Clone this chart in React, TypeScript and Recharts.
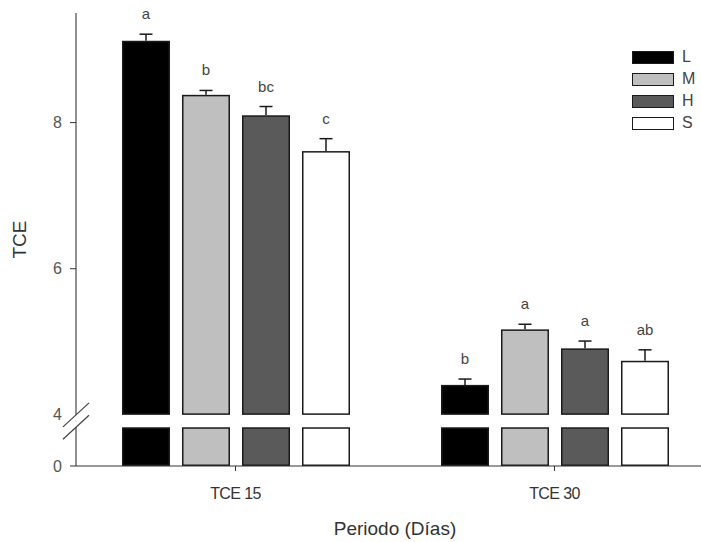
import { BarChart, Bar, XAxis, YAxis } from 'recharts';

const categories = ['TCE 15', 'TCE 30'];
const treatments = ['L', 'M', 'H', 'S'];
const valuesL = [9.12, 4.41];
const valuesM = [8.38, 5.17];
const valuesH = [8.1, 4.91];
const valuesS = [7.61, 4.74];
const errorsL = [0.09, 0.08];
const errorsM = [0.06, 0.07];
const errorsH = [0.12, 0.1];
const errorsS = [0.17, 0.15];
const lettersL = ['a', 'b'];
const lettersM = ['b', 'a'];
const lettersH = ['bc', 'a'];
const lettersS = ['c', 'ab'];
const yTickLabels = [0, 4, 6, 8];

// broken axis: a short stub below the break, then values from 4 upward
const BREAK_AT = 4;
const STUB = 0.53;
const BASE = 0.7;
const TOP = 9.5 - BREAK_AT + BASE;

const fills: Record<string, string> = { L: '#000000', M: '#bfbfbf', H: '#5a5a5a', S: '#ffffff' };
const font = '"Liberation Sans", Arial, sans-serif';
const AXIS_X = 76;

const series: Record<string, { v: number[]; e: number[]; s: string[] }> = {
    L: { v: valuesL, e: errorsL, s: lettersL },
    M: { v: valuesM, e: errorsM, s: lettersM },
    H: { v: valuesH, e: errorsH, s: lettersH },
    S: { v: valuesS, e: errorsS, s: lettersS },
};

const data = categories.map((cat, i) => {
    const row: Record<string, any> = { cat };
    treatments.forEach((k) => {
        row[`${k}_stub`] = STUB;
        row[`${k}_gap`] = BASE - STUB;
        row[`${k}_main`] = series[k].v[i] - BREAK_AT;
        row[`${k}_err`] = series[k].e[i];
        row[`${k}_sig`] = series[k].s[i];
    });
    return row;
});

const toAxis = (v: number) => (v === 0 ? 0 : v - BREAK_AT + BASE);
const tickPositions = [0, STUB, ...yTickLabels.slice(1).map(toAxis)];

const stubShape = (k: string) => (props: any) => {
    const { x, y, width, height } = props;
    return (
        <rect x={x + 0.75} y={y + 0.75} width={width - 1.5} height={height - 1.5}
            fill={fills[k]} stroke="#1a1a1a" strokeWidth={1.5} />
    );
};

const mainShape = (k: string) => (props: any) => {
    const { x, y, width, height, payload } = props;
    const pxPerUnit = height / payload[`${k}_main`];
    const errPx = payload[`${k}_err`] * pxPerUnit;
    const cx = x + width / 2;
    const capY = y - errPx;
    return (
        <g>
            <line x1={cx} x2={cx} y1={y} y2={capY} stroke="#1a1a1a" strokeWidth={1.5} />
            <line x1={cx - 6.5} x2={cx + 6.5} y1={capY} y2={capY} stroke="#1a1a1a" strokeWidth={1.5} />
            <rect x={x + 0.75} y={y + 0.75} width={width - 1.5} height={height - 1.5}
                fill={fills[k]} stroke="#1a1a1a" strokeWidth={1.5} />
            <text x={cx} y={capY - 15} textAnchor="middle" fontSize={15} fill="#444" fontFamily={font}>
                {payload[`${k}_sig`]}
            </text>
        </g>
    );
};

const YTick = (props: any) => {
    const { y, payload } = props;
    const t = payload.value;
    if (t === STUB) {
        return (
            <g>
                <rect x={AXIS_X - 2} y={y - 6} width={4} height={6} fill="#fff" />
                <line x1={AXIS_X - 13} y1={y + 12} x2={AXIS_X + 13} y2={y - 12} stroke="#444" strokeWidth={1.2} />
            </g>
        );
    }
    const label = t === 0 ? 0 : Math.round(t - BASE + BREAK_AT);
    return (
        <g>
            {t === BASE ? (
                <g>
                    <rect x={AXIS_X - 2} y={y} width={4} height={6} fill="#fff" />
                    <line x1={AXIS_X - 13} y1={y + 12} x2={AXIS_X + 13} y2={y - 12} stroke="#444" strokeWidth={1.2} />
                </g>
            ) : (
                <line x1={AXIS_X - 6} x2={AXIS_X} y1={y} y2={y} stroke="#333" strokeWidth={1} />
            )}
            <text x={AXIS_X - 14} y={y} dy={5.5} textAnchor="end" fontSize={16} fill="#555" fontFamily={font}>
                {label}
            </text>
        </g>
    );
};

const YTitle = (props: any) => {
    const { viewBox } = props;
    const cy = viewBox.y + viewBox.height / 2;
    return (
        <text x={26} y={cy} transform={`rotate(-90 26 ${cy})`} textAnchor="middle" fontSize={19}
            fill="#333" fontFamily={font}>
            TCE
        </text>
    );
};

const XTitle = (props: any) => {
    const { viewBox } = props;
    return (
        <text x={viewBox.x + viewBox.width / 2} y={viewBox.y + 69} textAnchor="middle" fontSize={19}
            fill="#333" fontFamily={font}>
            Periodo (Días)
        </text>
    );
};

const LegendBox = () => (
    <div style={{ position: 'absolute', left: 632, top: 46, fontFamily: font }}>
        {treatments.map((k) => (
            <div key={k} style={{ display: 'flex', alignItems: 'center', height: 22 }}>
                <div style={{
                    width: 40, height: 11, background: fills[k], border: '1.5px solid #1a1a1a', marginRight: 8,
                }} />
                <span style={{ fontSize: 16, color: '#444' }}>{k}</span>
            </div>
        ))}
    </div>
);

export default function App() {
    return (
        <div style={{ position: 'absolute', left: 0, top: 0, width: 701, height: 542, overflow: 'hidden', background: '#fff' }}>
            <BarChart width={701} height={542} data={data} barSize={48} barGap={12}
                margin={{ top: 13, right: -13, left: 0, bottom: 16 }}>
                <XAxis dataKey="cat" height={60} axisLine={{ stroke: '#333' }} tickLine={{ stroke: '#333' }}
                    tickSize={5} tickMargin={17}
                    tick={{ fontSize: 16, fill: '#333', fontFamily: font, letterSpacing: -0.6 }}
                    label={<XTitle />} />
                <YAxis width={76} type="number" domain={[0, TOP]} ticks={tickPositions} interval={0}
                    axisLine={{ stroke: '#222' }} tickLine={false} tick={<YTick />}
                    label={<YTitle />} />
                {treatments.map((k) => [
                    <Bar key={`${k}_stub`} dataKey={`${k}_stub`} stackId={k} fill={fills[k]}
                        shape={stubShape(k)} isAnimationActive={false} legendType="none" />,
                    <Bar key={`${k}_gap`} dataKey={`${k}_gap`} stackId={k} fill="none"
                        isAnimationActive={false} legendType="none" />,
                    <Bar key={`${k}_main`} dataKey={`${k}_main`} stackId={k} fill={fills[k]}
                        shape={mainShape(k)} isAnimationActive={false} legendType="none" />,
                ])}
            </BarChart>
            <LegendBox />
        </div>
    );
}
